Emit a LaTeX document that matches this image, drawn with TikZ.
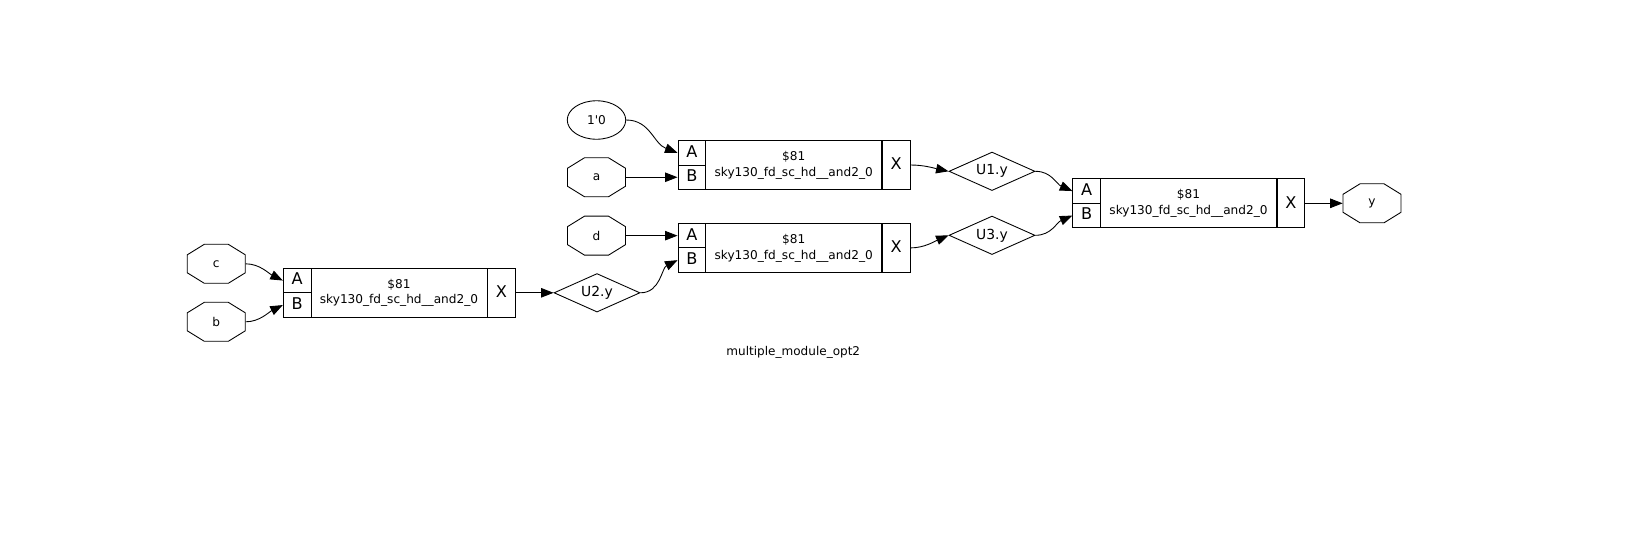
\documentclass[tikz,border=0pt]{standalone}
\usepackage{fontspec}
\setmainfont{DejaVu Sans}[Ligatures=TeXOff]
\usetikzlibrary {arrows.meta, shapes.geometric}
\tikzset{
  >={Triangle[length=0.25cm, width=0.19cm]},
  wire/.style={->, line width=0.5pt},
  portcell/.style={draw, line width=0.55pt, inner sep=0pt, text depth=0.06cm, minimum width=0.554cm, minimum height=0.49cm, font=\fontsize{9.2}{9}\selectfont},
  bodycell/.style={draw, line width=0.55pt, inner sep=0pt, minimum width=3.52cm, minimum height=0.98cm, align=center, font=\fontsize{6.9}{9.07}\selectfont},
  outcell/.style={draw, line width=0.55pt, inner sep=0pt, text depth=0.04cm, minimum width=0.554cm, minimum height=0.98cm, font=\fontsize{9.2}{9}\selectfont},
  netnode/.style={diamond, aspect=2.2, draw, line width=0.5pt, inner sep=0pt, minimum width=1.72cm, minimum height=0.77cm, font=\fontsize{7.9}{9}\selectfont},
  pinnode/.style={inner sep=0pt, minimum width=1.16cm, minimum height=0.78cm, font=\fontsize{6.9}{8}\selectfont},
  constnode/.style={ellipse, draw, line width=0.5pt, inner sep=0pt, minimum width=1.17cm, minimum height=0.77cm, font=\fontsize{6.9}{8}\selectfont},
  titlenode/.style={font=\fontsize{6.85}{8}\selectfont}
}
\begin{document}
\begin{tikzpicture}[x=0.02cm, y=-0.02cm]
    \useasboundingbox (0, 0) rectangle (1639, 545);
    % cells
    \foreach \cellname/\cellx/\celly in {gatec/283.3/268.3, gatea/678/140.5, gated/678/223.4, gatey/1072.8/178.8}{
        \node[portcell] (\cellname A) at (\cellx+13.85, \celly+12.25) {A};
        \node[portcell] (\cellname B) at (\cellx+13.85, \celly+36.75) {B};
        \node[bodycell] (\cellname M) at (\cellx+115.7, \celly+24.5) {\$81\\sky130\_fd\_sc\_hd\_\_and2\_0};
        \node[outcell] (\cellname X) at (\cellx+218.15, \celly+24.5) {X};
    }
    % pins
    \foreach \pinname/\pinx/\piny in {c/216.3/263.8, b/216.3/321.8, a/596.5/177.25, d/596.5/235.65, y/1372/203.3}{
        \node[pinnode] (\pinname) at (\pinx, \piny) {\pinname};
        \draw[line width=0.5pt] (\pinx-29, \piny-9) -- (\pinx-12, \piny-19.5) -- (\pinx+12, \piny-19.5)
            -- (\pinx+29, \piny-9) -- (\pinx+29, \piny+9) -- (\pinx+12, \piny+19.5)
            -- (\pinx-12, \piny+19.5) -- (\pinx-29, \piny+9) -- cycle;
    }
    \node[constnode] (zero) at (596.5, 120) {1'0};
    % nets
    \node[netnode] (netU2) at (597, 292.8) {U2.y};
    \node[netnode] (netU1) at (992, 171.3) {U1.y};
    \node[netnode] (netU3) at (992, 235.3) {U3.y};
    % wires
    \draw[wire] (c.east) .. controls +(14, 0) and +(-14, -7) .. (gatecA.west);
    \draw[wire] (b.east) .. controls +(14, 0) and +(-14, 7) .. (gatecB.west);
    \draw[wire] (gatecX.east) -- (netU2.west);
    \draw[wire] (netU2.east) .. controls +(20, 0) and +(-16, 8) .. (gatedB.west);
    \draw[wire] (zero.east) .. controls +(24, 0) and +(-24, -9) .. (gateaA.west);
    \draw[wire] (a.east) -- (gateaB.west);
    \draw[wire] (d.east) -- (gatedA.west);
    \draw[wire] (gateaX.east) .. controls +(14, 0) and +(-14, -3) .. (netU1.west);
    \draw[wire] (gatedX.east) .. controls +(14, 0) and +(-14, 6) .. (netU3.west);
    \draw[wire] (netU1.east) .. controls +(16, 0) and +(-16, -7) .. (gateyA.west);
    \draw[wire] (netU3.east) .. controls +(16, 0) and +(-16, 7) .. (gateyB.west);
    \draw[wire] (gateyX.east) -- (y.west);
    % title
    \node[titlenode] (title) at (793.3, 352.5) {multiple\_module\_opt2};
\end{tikzpicture}
\end{document}
